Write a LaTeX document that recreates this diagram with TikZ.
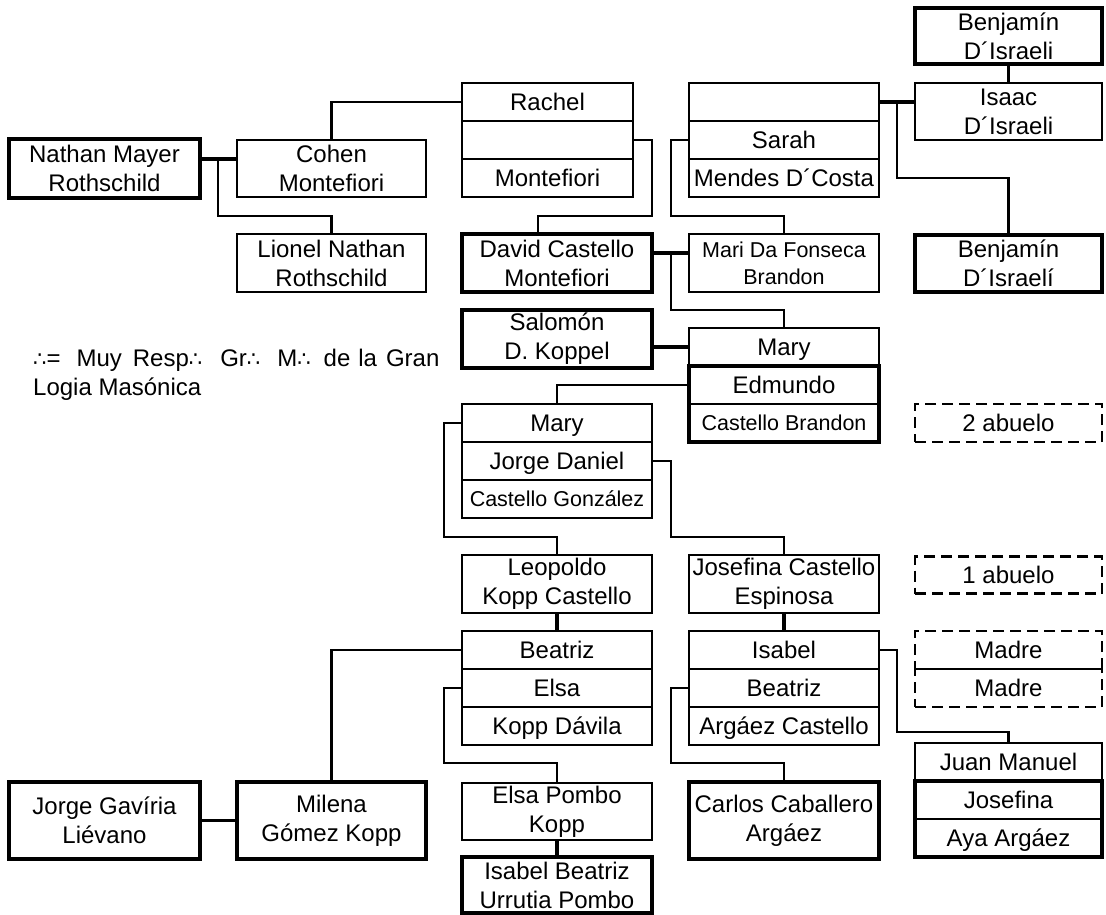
\documentclass[tikz,border=0pt]{standalone}
\usepackage{fontspec}
\setmainfont{Liberation Sans}
\newfontfamily\dejavu{DejaVu Sans}
\usetikzlibrary{calc}
\newcommand{\therefo}{{\dejavu\fontsize{21}{24}\selectfont ∴}}
\tikzset{
  box/.style={draw, line width=2.3pt, inner sep=0pt, outer sep=0pt, align=center,
    font=\fontsize{24}{29}\selectfont},
  boldbox/.style={box, line width=4.5pt},
  midbox/.style={box, line width=3.3pt},
  dashbox/.style={box, line width=2.8pt, dash pattern=on 11pt off 6pt},
  one/.style={minimum height=38pt, text height=17.2pt, text depth=0pt},
  sm/.style={font=\fontsize{21.5}{27}\selectfont, text height=15.4pt},
  smtwo/.style={font=\fontsize{21.5}{27}\selectfont},
  wA/.style={minimum width=191pt},
  wB/.style={minimum width=189pt},
  wC/.style={minimum width=190pt},
  wD/.style={minimum width=190pt},
  wE/.style={minimum width=187pt},
  conn/.style={line width=2.3pt},
  marr/.style={line width=3.8pt},
  thickframe/.style={line width=4.5pt}
}
\begin{document}
\begin{tikzpicture}[x=1pt,y=-1pt]
\useasboundingbox (0,0) rectangle (1106,915);

% ---- top rows
\node[midbox, wE, minimum height=56pt] (benjtop) at (1008.5,36) {Benjamín\\D´Israeli};
\node[box, one, minimum width=171pt] (rachel1) at (547.5,102) {Rachel};
\node[box, one, minimum width=171pt] (rachel2) at (547.5,140) {};
\node[box, one, minimum width=171pt] (rachel3) at (547.5,178) {Montefiori};
\node[box, one, wD] (sarah1) at (784,102) {};
\node[box, one, wD] (sarah2) at (784,140) {Sarah};
\node[box, one, wD] (sarah3) at (784,178) {Mendes D´Costa};
\node[box, wE, minimum height=57pt] (isaac) at (1008.5,111.5) {Isaac\\D´Israeli};
\node[boldbox, wA, minimum height=59pt] (nathan) at (104.5,168.5) {Nathan Mayer\\Rothschild};
\node[box, wB, minimum height=57pt] (cohen) at (331.5,168.5) {Cohen\\Montefiori};
\node[box, wB, minimum height=58pt] (lionel) at (331.5,263) {Lionel Nathan\\Rothschild};
\node[boldbox, wC, minimum height=58pt] (david) at (557,263) {David Castello\\Montefiori};
\node[box, smtwo, wD, minimum height=58pt] (mari) at (784,263) {Mari Da Fonseca\\Brandon};
\node[boldbox, wE, minimum height=57pt] (benjbot) at (1008.5,263.5) {Benjamín\\D´Israelí};

% ---- middle rows
\node[boldbox, wC, minimum height=58pt] (salomon) at (557,339) {Salomón\\D. Koppel};
\node[box, one, wD] (mary1) at (784,347) {Mary};
\node[box, one, wD] (edmundo) at (784,385) {Edmundo};
\node[box, one, sm, wD] (castb) at (784,423) {Castello Brandon};
\draw[thickframe] (edmundo.north west) rectangle (castb.south east);

\node[anchor=north west, inner sep=0pt, align=left, font=\fontsize{24}{29}\selectfont] (legend) at (33,348.5)
  {\therefo=\hspace{16pt}Muy\hspace{11pt}Resp\therefo\hspace{18pt}Gr\therefo\hspace{17pt}M\therefo\hspace{13pt}de\hspace{8pt}la\hspace{9pt}Gran\\Logia Masónica};

\node[box, one, wC] (mb1) at (557,423) {Mary};
\node[box, one, wC] (mb2) at (557,461) {Jorge Daniel};
\node[box, one, sm, wC] (mb3) at (557,499) {Castello González};
\node[dashbox, one, wE] (abuelo2) at (1008.5,423) {2 abuelo};

\node[box, wC, minimum height=58pt] (leopoldo) at (557,584) {Leopoldo\\Kopp Castello};
\node[box, wD, minimum height=58pt] (josefina) at (784,584) {Josefina Castello\\Espinosa};
\node[dashbox, one, wE, minimum height=37pt] (abuelo1) at (1008.5,575) {1 abuelo};

% ---- lower rows
\node[box, one, wC] (bea1) at (557,650) {Beatriz};
\node[box, one, wC] (bea2) at (557,688) {Elsa};
\node[box, one, wC] (bea3) at (557,726) {Kopp Dávila};
\node[box, one, wD] (isa1) at (784,650) {Isabel};
\node[box, one, wD] (isa2) at (784,688) {Beatriz};
\node[box, one, wD] (isa3) at (784,726) {Argáez Castello};
\node[dashbox, one, wE] (madre1) at (1008.5,650) {Madre};
\node[dashbox, one, wE] (madre2) at (1008.5,688) {Madre};

\node[box, one, wE] (juan) at (1008.5,762) {Juan Manuel};
\node[box, one, wE] (josefina2) at (1008.5,800) {Josefina};
\node[box, one, wE] (aya) at (1008.5,838) {Aya Argáez};
\draw[thickframe] (josefina2.north west) rectangle (aya.south east);

\node[boldbox, wA, minimum height=77pt] (jorgeg) at (104.5,820.5) {Jorge Gavíria\\Liévano};
\node[boldbox, wB, minimum height=77pt] (milena) at (331.5,820.5) {Milena\\Gómez Kopp};
\node[box, wC, minimum height=57pt] (elsap) at (557,811.5) {Elsa Pombo\\Kopp};
\node[boldbox, wC, minimum height=56pt] (isabelb) at (557,885) {Isabel Beatriz\\Urrutia Pombo};
\node[boldbox, wD, minimum height=77pt] (carlos) at (784,820.5) {Carlos Caballero\\Argáez};

% ---- connectors
\draw[marr] ($(nathan.east)+(0,-9.5)$) -- ($(cohen.west)+(0,-9.5)$);
\draw[conn] (218,159) -- (218,216) -| (lionel.north);
\draw[conn] (cohen.north) |- (rachel1.west);
\draw[conn] (rachel2.east) -- (652,140) -- (652,216) -| ($(david.north)+(-19,0)$);
\draw[conn] (sarah2.west) -- (671,140) -- (671,216) -| (mari.north);
\draw[marr] (sarah1.east) -- (sarah1.east -| isaac.west);
\draw[conn] (897,102) -- (897,178) -| (benjbot.north);
\draw[marr] (benjtop.south) -- (isaac.north);
\draw[marr] ($(david.east)+(0,-10)$) -- ($(mari.west)+(0,-10)$);
\draw[conn] (671,253) -- (671,310) -| (mary1.north);
\draw[marr] (salomon.east |- mary1.west) -- (mary1.west);
\draw[conn] (edmundo.west) -| (mb1.north);
\draw[conn] (mb1.west) -- (444,423) -- (444,537) -| (leopoldo.north);
\draw[conn] (mb2.east) -- (671,461) -- (671,537) -| (josefina.north);
\draw[marr] (leopoldo.south) -- (bea1.north);
\draw[marr] (josefina.south) -- (isa1.north);
\draw[conn] (bea1.west) -| (milena.north);
\draw[conn] (bea2.west) -- (444,688) -- (444,763) -| (elsap.north);
\draw[conn] (isa1.east) -- (897,650) -- (897,732) -| (juan.north);
\draw[conn] (isa2.west) -- (671,688) -- (671,763) -| (carlos.north);
\draw[marr] (jorgeg.east) -- (milena.west);
\draw[marr] (elsap.south) -- (isabelb.north);
\end{tikzpicture}
\end{document}
